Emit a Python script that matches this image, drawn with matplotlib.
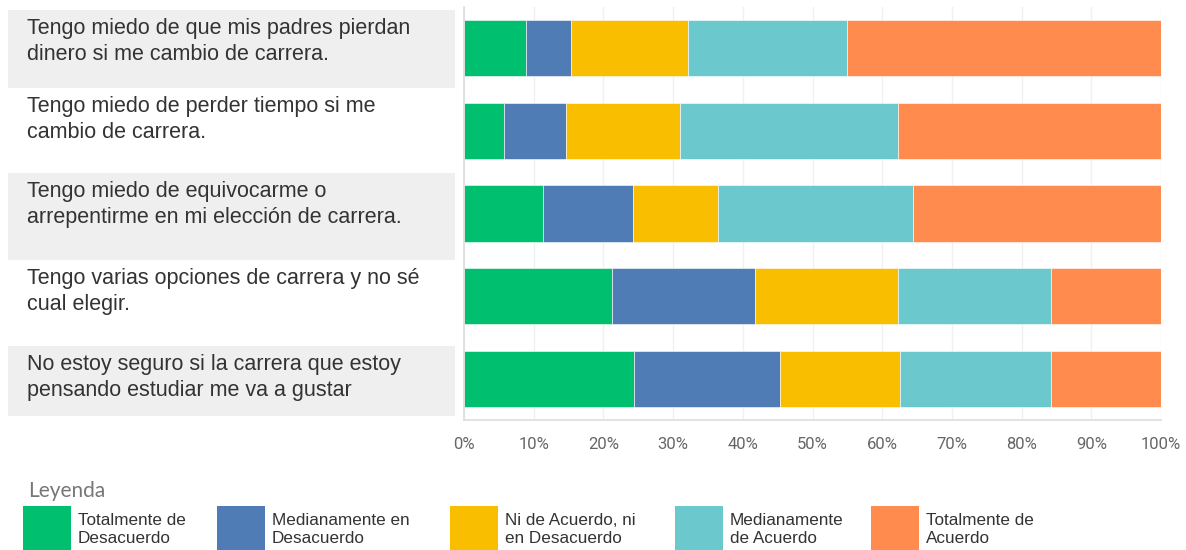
import matplotlib.pyplot as plt
from matplotlib.patches import Rectangle

# Survey statements (top to bottom) and share of answers per option (%)
statements = [
    "Tengo miedo de que mis padres pierdan\ndinero si me cambio de carrera.",
    "Tengo miedo de perder tiempo si me\ncambio de carrera.",
    "Tengo miedo de equivocarme o\narrepentirme en mi elección de carrera.",
    "Tengo varias opciones de carrera y no sé\ncual elegir.",
    "No estoy seguro si la carrera que estoy\npensando estudiar me va a gustar",
]
options = [
    "Totalmente de\nDesacuerdo",
    "Medianamente en\nDesacuerdo",
    "Ni de Acuerdo, ni\nen Desacuerdo",
    "Medianamente\nde Acuerdo",
    "Totalmente de\nAcuerdo",
]
totalmente_desacuerdo = [8.9, 5.8, 11.3, 21.2, 24.4]
medianamente_desacuerdo = [6.5, 8.9, 13.0, 20.5, 21.0]
neutral = [16.8, 16.3, 12.1, 20.5, 17.1]
medianamente_acuerdo = [22.7, 31.2, 28.0, 22.0, 21.7]
totalmente_acuerdo = [45.1, 37.8, 35.6, 15.8, 15.8]
tick_labels = ["0%", "10%", "20%", "30%", "40%", "50%", "60%", "70%", "80%", "90%", "100%"]

series = [totalmente_desacuerdo, medianamente_desacuerdo, neutral,
          medianamente_acuerdo, totalmente_acuerdo]
colors = ["#00BF6F", "#507CB6", "#F9BE00", "#6BC8CD", "#FF8B4F"]

W, H = 1186, 550
fig = plt.figure(figsize=(W / 100, H / 100), dpi=100)

# pixel-space overlay for the label panel and the legend
bg = fig.add_axes([0, 0, 1, 1], zorder=0)
bg.set_xlim(0, W)
bg.set_ylim(H, 0)
bg.axis("off")

# label boxes: (top, bottom, shaded)
boxes = [(10, 88, True), (88, 173, False), (173, 260, True),
         (260, 346, False), (346, 416, True)]
for (top, bottom, shaded), text in zip(boxes, statements):
    if shaded:
        bg.add_patch(Rectangle((8, top), 447, bottom - top,
                               facecolor="#efefef", edgecolor="none"))
    bg.text(27, top + 8, text, ha="left", va="top", fontsize=15.5,
            family="Liberation Sans", color="#333333", linespacing=1.32)

# stacked bars
ax = fig.add_axes([464 / W, 1 - 420 / H, (1161 - 464) / W, (420 - 7) / H], zorder=1)
ax.patch.set_alpha(0)
rows = list(range(len(statements)))
left = [0.0] * len(rows)
for vals, col in zip(series, colors):
    ax.barh(rows, vals, left=left, height=0.68, color=col,
            edgecolor="#ffffff", linewidth=0.4, zorder=2)
    left = [a + b for a, b in zip(left, vals)]

ax.set_xlim(0, 100)
ax.set_ylim(len(rows) - 0.5, -0.5)
ax.set_yticks([])
ax.set_xticks(range(0, 101, 10))
ax.set_xticklabels(tick_labels, family="Roboto", fontsize=12, color="#666666")
ax.tick_params(axis="x", length=0, pad=12)
ax.grid(axis="x", color="#f0f0f0", linewidth=1, zorder=0)
for side in ["top", "right"]:
    ax.spines[side].set_visible(False)
for side in ["left", "bottom"]:
    ax.spines[side].set_color("#dddddd")
    ax.spines[side].set_linewidth(1.2)

# legend
bg.text(28, 491, "Leyenda", ha="left", va="center", fontsize=15,
        family="Lato", color="#777777")
legend_x = [23, 217, 450, 675, 871]
for x, col, lab in zip(legend_x, colors, options):
    bg.add_patch(Rectangle((x, 506), 48, 50, facecolor=col, edgecolor="none"))
    bg.text(x + 55, 513, lab, ha="left", va="top", fontsize=12.3,
            family="Liberation Sans", color="#333333", linespacing=1.25)

fig.savefig("out.png", dpi=100)
